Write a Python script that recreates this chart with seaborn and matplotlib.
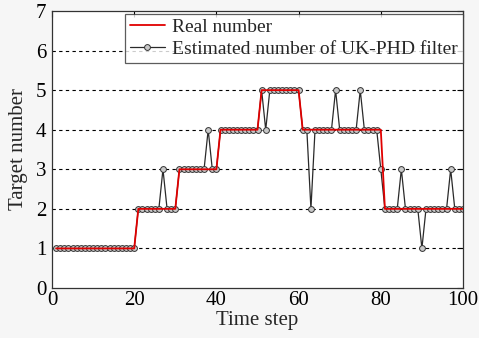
import numpy as np
import pandas as pd
import matplotlib
matplotlib.use("Agg")
import matplotlib.pyplot as plt
import seaborn as sns

# ---- data ----
time_step = list(range(1, 101))
real_number = [1]*20 + [2]*10 + [3]*10 + [4]*10 + [5]*10 + [4]*20 + [2]*20
estimated_number = list(real_number)
# deviations of the estimate
est_changes = {27: 3, 38: 4, 52: 4, 63: 2, 69: 5, 75: 5, 80: 3, 85: 3, 90: 1, 97: 3}
for t, v in est_changes.items():
    estimated_number[t - 1] = v

x_ticks = [0, 20, 40, 60, 80, 100]
y_ticks = [0, 1, 2, 3, 4, 5, 6, 7]
label_real = "Real number"
label_est = "Estimated number of UK-PHD filter"

df = pd.DataFrame({"t": time_step, "real": real_number, "est": estimated_number})

sns.set_style("white")
plt.rcParams["font.family"] = ["Liberation Serif", "DejaVu Serif"]
plt.rcParams["mathtext.fontset"] = "stix"

fig = plt.figure(figsize=(4.79, 3.38), dpi=100)
fig.patch.set_facecolor("#f6f6f6")
ax = fig.add_axes([52/479, 1-288/338, (463-52)/479, (288-11)/338])
ax.set_facecolor("white")

for yv in range(1, 7):
    ax.axhline(yv, color="black", linestyle=(0, (3, 3)), linewidth=0.8, zorder=0)

sns.lineplot(data=df, x="t", y="est", ax=ax, color="#2a2a2a", linewidth=0.9,
             marker="o", markersize=4.2, markerfacecolor="#c8c8c8",
             markeredgecolor="#333333", markeredgewidth=0.7, label=label_est, zorder=2)
sns.lineplot(data=df, x="t", y="real", ax=ax, color="#e00000", linewidth=1.3,
             label=label_real, zorder=3)

ax.set_xlim(0, 100)
ax.set_ylim(0, 7)
ax.set_xticks(x_ticks)
ax.set_yticks(y_ticks)
ax.tick_params(direction="in", length=4, width=0.8, top=True, right=True,
               labelsize=15, pad=2, colors="black")
ax.tick_params(axis="y", pad=4)
for s in ax.spines.values():
    s.set_color("#333333")
    s.set_linewidth(0.9)
ax.set_xlabel("Time step", fontsize=15, labelpad=1)
ax.set_ylabel("Target number", fontsize=15, labelpad=6)

h, l = ax.get_legend_handles_labels()
order = [l.index(label_real), l.index(label_est)]
leg = ax.legend([h[i] for i in order], [l[i] for i in order],
                loc="upper right", bbox_to_anchor=(1.0, 0.99), fontsize=14,
                frameon=True, fancybox=False, edgecolor="#333333",
                borderpad=0.25, labelspacing=0.2, handlelength=1.8,
                handletextpad=0.4, borderaxespad=0)
leg.get_frame().set_linewidth(0.9)

fig.savefig("out.png", dpi=100, facecolor=fig.get_facecolor())
